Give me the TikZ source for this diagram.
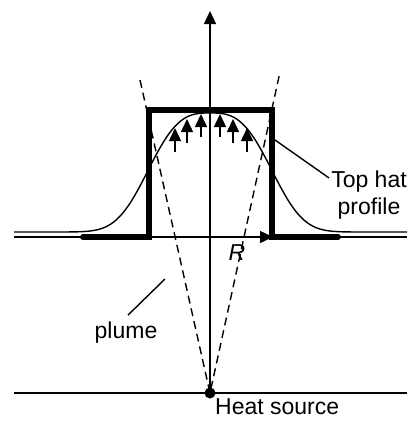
\documentclass[tikz,border=0pt]{standalone}
\usepackage{fontspec}
\setmainfont{Liberation Sans}
\usetikzlibrary{arrows.meta}

\begin{document}
\begin{tikzpicture}[x=1pt, y=-1pt,
    thinline/.style={line width=1.4pt},
    hat/.style={line width=6pt, line cap=round, line join=miter},
    guide/.style={line width=1.4pt, dash pattern=on 8pt off 5pt},
    tip/.style={-{Triangle[length=13pt, width=12pt]}},
    every node/.style={font=\fontsize{23}{27}\selectfont, inner sep=2pt}
]
\useasboundingbox (0,0) rectangle (413,423);
\coordinate (src)   at (210,393);
\coordinate (axtop) at (210,11);
\coordinate (gl)    at (14,393);
\coordinate (gr)    at (407,393);
\coordinate (bl)    at (14,237);
\coordinate (br)    at (407,237);
\coordinate (o)     at (210,237);
\coordinate (edge)  at (273,237);
\coordinate (ltop)  at (140,80);
\coordinate (rtop)  at (280,72);
\coordinate (hatpt) at (275,140);
\coordinate (plumept) at (165,279);

\node (heat)   [anchor=north west] at (213,396) {Heat source};
\node (R)      at (237,253) {\textit{R}};
\node (plume)  at (126,333) {plume};
\node (tophat) [align=center] at (369,195) {Top hat\\profile};

\draw[thinline] (gl) -- (gr);
\draw[thinline] (bl) -- (br);
\draw[thinline, tip] (src) -- (axtop);
\draw[thinline, tip] (o) -- (edge);
\draw[thinline] plot[domain=14:407, samples=160, smooth] (\x, {232-119*exp(-(abs(\x-210)/71.2)^3)});
\draw[hat] (83,237) -- (149,237) -- (149,110) -- (272,110) -- (272,237) -- (338,237);
\draw[guide] (ltop) -- (src) -- (rtop);
\foreach \x/\t/\b in {175/128/152, 187/119/143, 201/114/137, 220/114/137, 233/119/143, 247/128/152}
  \draw[thinline, tip] (\x,\b) -- (\x,\t);
\fill (src) circle (5.5);

\draw[thinline] (hatpt) -- ([shift={(0,-17)}]tophat.west);
\draw[thinline] ([shift={(2,-5)}]plume.north) -- (plumept);
\end{tikzpicture}
\end{document}
